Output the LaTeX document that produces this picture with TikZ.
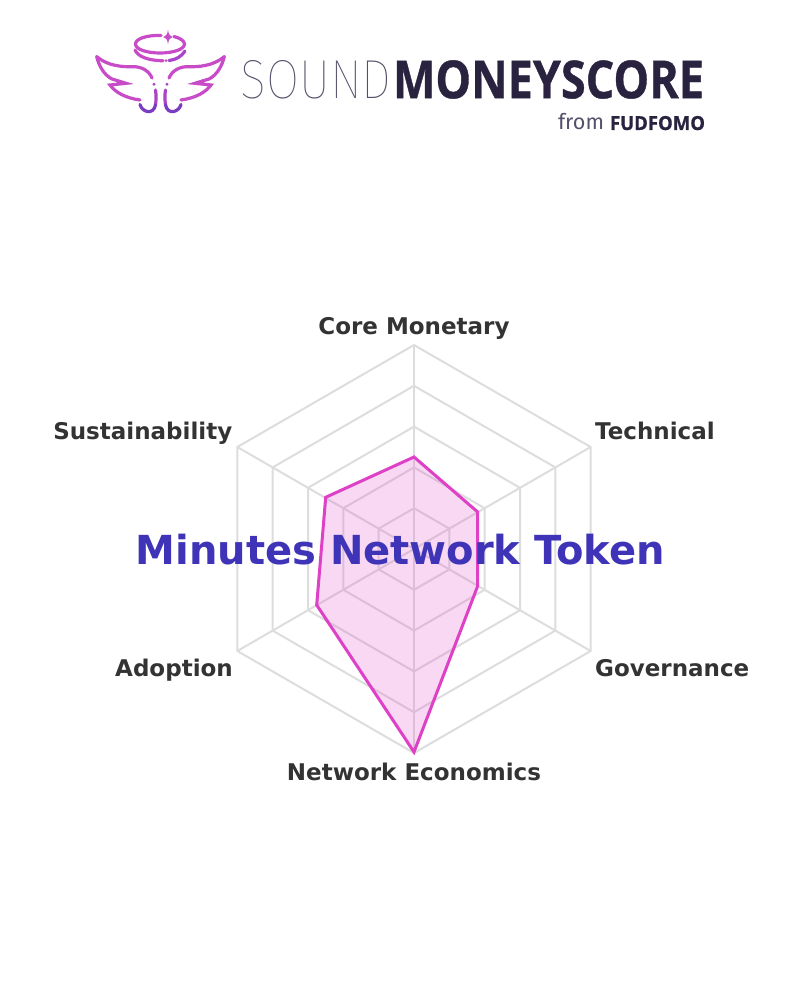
\documentclass[tikz,border=0pt]{standalone}
\usepackage{fontspec}
\usepackage{graphicx}
\setmainfont{DejaVu Sans}
\newfontfamily\thinfont{Fira Sans Thin}
\newfontfamily\heavyfont{Open Sans}[BoldFeatures={FakeBold=0.8}]
\newfontfamily\regfont{Fira Sans}
\definecolor{gridc}{HTML}{DDDDDD}
\definecolor{polyc}{HTML}{DE40C6}
\definecolor{titlec}{HTML}{3F33B8}
\definecolor{labelc}{HTML}{333333}
\definecolor{inkc}{HTML}{2A2340}
\definecolor{inkl}{HTML}{55506A}
\definecolor{wingtop}{HTML}{C84CC8}
\definecolor{wingmid}{HTML}{A845C8}
\definecolor{wingbot}{HTML}{7A3CC0}
\tikzset{
  x=1pt,y=-1pt,
  ring/.style={draw=gridc,line width=2pt,line join=miter},
  spoke/.style={draw=gridc,line width=2pt},
  axislabel/.style={font=\fontsize{23}{26}\selectfont\bfseries,text=labelc,inner sep=0pt},
  logoline/.style={line width=3.2pt,line cap=round,line join=miter},
  logotext/.style={inner sep=0pt,outer sep=0pt},
  leftwing/.pic={
    \draw[logoline,wingtop] (96.7,56.7) .. controls (108,66) and (122,67) .. (133,66.7) .. controls (142,66.5) and (149,71) .. (152,78);
    \draw[logoline,wingtop] (96.7,56.7) .. controls (99,66) and (104,75) .. (112,79) -- (126,83.3) -- (110,85) .. controls (115,92) and (125,98) .. (140,100);
    \fill[wingmid] (154,84.3) circle (1.6);
    \draw[logoline,wingmid] (155.5,90) .. controls (156.5,96) and (156,101) .. (155.5,105);
    \draw[logoline,wingbot] (155.5,105) .. controls (154.5,110) and (151,112.5) .. (147,111.5) .. controls (143.5,110.5) and (141,108) .. (140,104.5);
  },
}
\begin{document}
\begin{tikzpicture}
\useasboundingbox (0,0) rectangle (800,1000);
\fill[white] (0,0) rectangle (800,1000);
% radar grid
\foreach \r in {40.8,81.6,122.4,163.2,204}{
  \draw[ring] (414,549-\r) -- (414+.866*\r,549-.5*\r) -- (414+.866*\r,549+.5*\r) -- (414,549+\r) -- (414-.866*\r,549+.5*\r) -- (414-.866*\r,549-.5*\r) -- cycle;
}
\draw[spoke] (414,345) -- (414,753);
\draw[spoke] (237.3,447) -- (590.7,651);
\draw[spoke] (237.3,651) -- (590.7,447);
% data polygon
\draw[draw=polyc,line width=3pt,fill=polyc,fill opacity=.2,line join=miter]
  (414,457) -- (477.7,512) -- (477.7,586) -- (414,752) -- (316.7,605) -- (325.7,497.3) -- cycle;
% axis labels
\node[axislabel,anchor=base] (core) at (414,334) {Core Monetary};
\node[axislabel,anchor=base west] (tech) at (595,439) {Technical};
\node[axislabel,anchor=base west] (gov) at (595,676) {Governance};
\node[axislabel,anchor=base] (net) at (414,780) {Network Economics};
\node[axislabel,anchor=base east] (adop) at (233,676) {Adoption};
\node[axislabel,anchor=base east] (sust) at (232.5,439) {Sustainability};
% title
\node[font=\fontsize{40}{48}\selectfont\bfseries,text=titlec,inner sep=0pt,anchor=base] (title) at (400.3,564) {Minutes Network Token};
% logo text
\node[logotext,anchor=west,text=inkl] (sound) at (240.5,79.5) {\resizebox{151pt}{38pt}{\thinfont SOUND}};
\node[logotext,anchor=west,text=inkc] (money) at (393,79.5) {\resizebox{311pt}{38pt}{\heavyfont\bfseries MONEYSCORE}};
\node[logotext,anchor=base west,text=inkl] (from) at (558,130) {\resizebox{46pt}{!}{\regfont from}};
\node[logotext,anchor=base west,text=inkc] (fud) at (610,130) {\resizebox{95pt}{14pt}{\heavyfont\bfseries FUDFOMO}};
% halo
\draw[logoline,wingtop] (161,35.5) .. controls (146,35) and (135.5,39) .. (135.5,44) .. controls (135.5,49.5) and (147,53) .. (160,53) .. controls (173,53) and (184.5,49.5) .. (184.5,44) .. controls (184.5,41) and (180,38) .. (174,36.5);
\draw[logoline,wingtop] (135,50) .. controls (138,57) and (149,60.5) .. (163,60.8);
\draw[logoline,wingmid] (169,60.5) .. controls (176,60) and (182,56) .. (185,51);
\fill[wingtop] (166,60.6) circle (1.5);
\fill[wingtop] (168,29.5) .. controls (168.5,34) and (169.5,36) .. (173,37) .. controls (169.5,38) and (168.5,40) .. (168,44.5) .. controls (167.5,40) and (166.5,38) .. (163,37) .. controls (166.5,36) and (167.5,34) .. (168,29.5) -- cycle;
% wings
\pic at (0,0) {leftwing};
\begin{scope}[xshift=321pt,xscale=-1]
\pic[transform shape] at (0,0) {leftwing};
\end{scope}
\end{tikzpicture}
\end{document}
